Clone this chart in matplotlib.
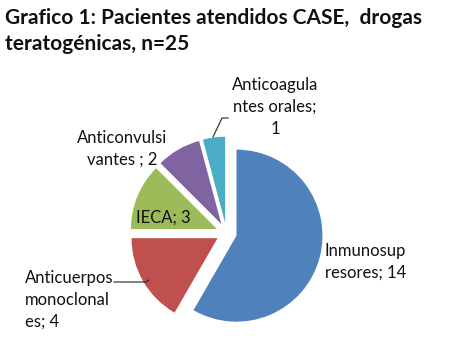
import matplotlib
matplotlib.use("Agg")
import matplotlib.pyplot as plt

# data
categories = ["Inmunosup\nresores", "Anticuerpos\nmonoclonal\nes", "IECA",
              "Anticonvulsi\nvantes ", "Anticoagula\nntes orales"]
values = [14, 4, 3, 2, 1]
separators = ["; ", "; ", "; ", "; ", ";\n"]
colors = ["#4F81BD", "#C0504D", "#9BBB59", "#8064A2", "#4BACC6"]
title = "Grafico 1: Pacientes atendidos CASE,  drogas\nteratogénicas, n=25"

W, H = 468, 357
plt.rcParams['font.family'] = ['Lato', 'DejaVu Sans']

fig = plt.figure(figsize=(W / 100, H / 100), dpi=100)
ax = fig.add_axes([0, 0, 1, 1])


def Y(y):
    # image row -> axis y
    return H - y


R = 86
ax.pie(values, colors=colors, startangle=90, counterclock=False,
       center=(226.5, Y(233)), radius=R, explode=[0.12 * R] * len(values),
       wedgeprops=dict(linewidth=0))
ax.set_xlim(0, W)
ax.set_ylim(0, H)
ax.set_aspect('equal')
ax.axis('off')

fs = 12
# label positions (image pixels) and alignment
lab_pos = [(325, 262, 'left', 'left'),
           (25, 300, 'left', 'left'),
           (163, 218, 'center', 'center'),
           (122, 149, 'center', 'center'),
           (275, 107, 'center', 'center')]
for cat, sep, v, (x, y, ha, ma) in zip(categories, separators, values, lab_pos):
    ax.text(x, Y(y), f"{cat}{sep}{v}", ha=ha, va='center', multialignment=ma,
            fontsize=fs, color='#111111', linespacing=1.45)

# leader lines
ax.plot([213, 222, 228], [Y(137), Y(118), Y(118)], color='#222222', lw=0.8)
ax.plot([114, 146, 149], [Y(282), Y(282), Y(280)], color='#222222', lw=0.8)

fig.text(5 / W, 1 - 31 / H, title, ha='left', va='center', fontsize=15,
         fontweight='bold', color='#111111', linespacing=1.35)

fig.savefig("out.png", dpi=100)
